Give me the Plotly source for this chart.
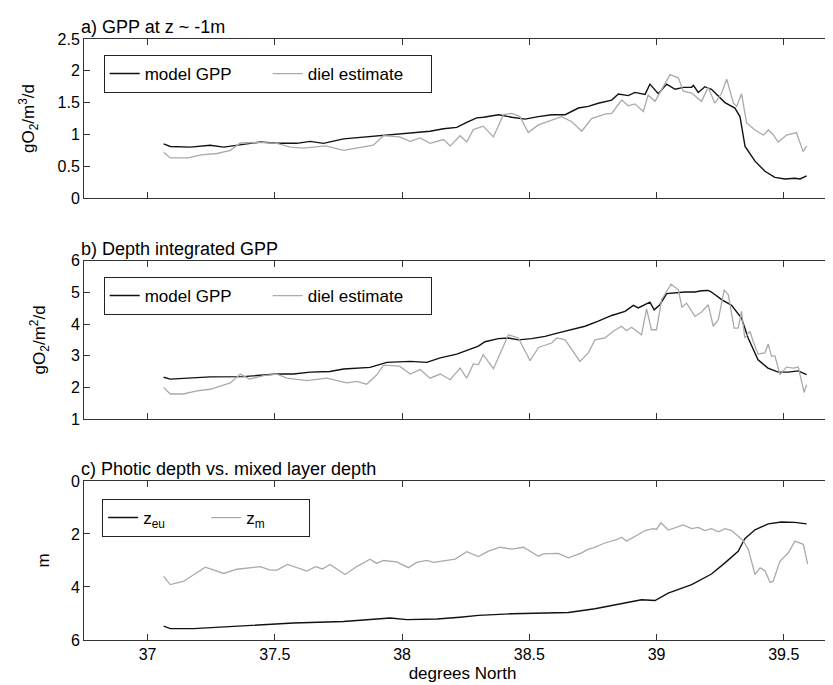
import plotly.graph_objects as go

# a) GPP at z ~ -1m
lat_a_model = [37.063, 37.089, 37.168, 37.246, 37.299, 37.364, 37.443, 37.508, 37.586, 37.639,
               37.691, 37.770, 37.848, 37.901, 37.953, 38.006, 38.058, 38.110, 38.163, 38.215,
               38.254, 38.293, 38.320, 38.379, 38.431, 38.483, 38.536, 38.588, 38.641, 38.693,
               38.732, 38.771, 38.824, 38.850, 38.889, 38.915, 38.955, 38.974, 39.007, 39.040,
               39.073, 39.105, 39.138, 39.145, 39.164, 39.190, 39.216, 39.243, 39.269, 39.308,
               39.328, 39.348, 39.387, 39.426, 39.465, 39.505, 39.544, 39.564, 39.590]
gpp_a_model = [0.85, 0.81, 0.80, 0.83, 0.80, 0.84, 0.88, 0.86, 0.86, 0.89,
               0.86, 0.93, 0.96, 0.98, 0.99, 1.01, 1.04, 1.05, 1.09, 1.11,
               1.19, 1.26, 1.27, 1.31, 1.27, 1.24, 1.28, 1.31, 1.31, 1.415,
               1.44, 1.49, 1.54, 1.635, 1.61, 1.66, 1.63, 1.79, 1.64, 1.79,
               1.71, 1.74, 1.74, 1.77, 1.66, 1.75, 1.71, 1.60, 1.50, 1.415,
               1.28, 0.81, 0.58, 0.42, 0.325, 0.30, 0.31, 0.30, 0.35]
lat_a_diel = [37.063, 37.089, 37.160, 37.210, 37.273, 37.325, 37.364, 37.443, 37.508, 37.560,
              37.612, 37.700, 37.770, 37.822, 37.887, 37.927, 37.990, 38.032, 38.071, 38.110,
              38.163, 38.189, 38.228, 38.254, 38.280, 38.319, 38.359, 38.398, 38.431, 38.463,
              38.496, 38.536, 38.588, 38.627, 38.667, 38.706, 38.745, 38.797, 38.824, 38.863,
              38.889, 38.915, 38.948, 38.967, 38.994, 39.033, 39.053, 39.086, 39.105, 39.138,
              39.177, 39.203, 39.229, 39.256, 39.276, 39.302, 39.315, 39.334, 39.354, 39.387,
              39.420, 39.440, 39.458, 39.478, 39.511, 39.550, 39.576, 39.590]
gpp_a_diel = [0.72, 0.63, 0.63, 0.68, 0.70, 0.75, 0.865, 0.875, 0.86, 0.80,
              0.785, 0.82, 0.75, 0.785, 0.83, 0.98, 0.96, 0.89, 0.945, 0.86,
              0.92, 0.82, 0.98, 0.88, 1.075, 1.13, 0.96, 1.31, 1.33, 1.28,
              1.03, 1.15, 1.23, 1.28, 1.20, 1.05, 1.25, 1.32, 1.33, 1.54,
              1.45, 1.48, 1.36, 1.62, 1.52, 1.81, 1.94, 1.89, 1.68, 1.65,
              1.52, 1.74, 1.49, 1.65, 1.87, 1.49, 1.44, 1.64, 1.18, 1.07,
              0.99, 1.07, 1.00, 0.88, 0.99, 1.03, 0.73, 0.82]

# b) Depth integrated GPP
lat_b_model = [37.063, 37.089, 37.246, 37.377, 37.508, 37.573, 37.639, 37.717, 37.770, 37.874,
               37.940, 38.032, 38.097, 38.150, 38.215, 38.267, 38.300, 38.326, 38.379, 38.418,
               38.457, 38.509, 38.562, 38.614, 38.667, 38.719, 38.771, 38.824, 38.876, 38.909,
               38.928, 38.955, 38.974, 38.991, 39.013, 39.040, 39.073, 39.112, 39.151, 39.177,
               39.203, 39.216, 39.256, 39.295, 39.334, 39.360, 39.399, 39.438, 39.478, 39.517,
               39.557, 39.590]
gpp_b_model = [2.32, 2.26, 2.33, 2.34, 2.42, 2.42, 2.48, 2.50, 2.58, 2.63,
               2.79, 2.82, 2.79, 2.93, 3.05, 3.19, 3.30, 3.44, 3.54, 3.56,
               3.50, 3.54, 3.61, 3.72, 3.82, 3.93, 4.09, 4.27, 4.40, 4.59,
               4.51, 4.63, 4.69, 4.45, 4.61, 4.96, 4.98, 5.01, 5.01, 5.05,
               5.06, 5.01, 4.77, 4.59, 4.19, 3.56, 2.87, 2.61, 2.48, 2.48,
               2.52, 2.40]
lat_b_diel = [37.063, 37.089, 37.140, 37.194, 37.246, 37.325, 37.364, 37.400, 37.456, 37.508,
              37.547, 37.626, 37.704, 37.783, 37.822, 37.861, 37.900, 37.927, 37.990, 38.032,
              38.071, 38.110, 38.150, 38.189, 38.228, 38.254, 38.280, 38.300, 38.319, 38.359,
              38.418, 38.457, 38.503, 38.536, 38.588, 38.608, 38.641, 38.699, 38.732, 38.758,
              38.797, 38.830, 38.863, 38.882, 38.902, 38.941, 38.961, 38.980, 39.000, 39.020,
              39.057, 39.086, 39.100, 39.118, 39.151, 39.177, 39.203, 39.223, 39.243, 39.266,
              39.282, 39.305, 39.321, 39.334, 39.347, 39.367, 39.380, 39.399, 39.426, 39.439,
              39.452, 39.465, 39.485, 39.511, 39.537, 39.557, 39.570, 39.580, 39.590]
gpp_b_diel = [2.00, 1.79, 1.79, 1.89, 1.94, 2.14, 2.42, 2.26, 2.37, 2.42,
              2.29, 2.21, 2.29, 2.14, 2.19, 2.10, 2.39, 2.70, 2.67, 2.42,
              2.56, 2.29, 2.42, 2.24, 2.61, 2.29, 2.74, 2.72, 3.03, 2.59,
              3.66, 3.56, 2.84, 3.26, 3.40, 3.56, 3.50, 2.82, 3.09, 3.50,
              3.56, 3.77, 3.93, 3.79, 3.90, 3.66, 4.48, 3.82, 3.82, 4.77,
              5.26, 5.08, 4.53, 4.66, 4.24, 4.38, 4.61, 3.93, 4.14, 5.08,
              4.93, 3.87, 3.87, 4.40, 3.56, 3.77, 3.45, 3.05, 3.09, 3.37,
              2.98, 3.00, 2.40, 2.64, 2.61, 2.64, 2.19, 1.84, 2.08]

# c) Photic depth vs. mixed layer depth
lat_zeu = [37.063, 37.089, 37.180, 37.377, 37.573, 37.770, 37.900, 37.953, 38.019, 38.137,
           38.228, 38.300, 38.431, 38.562, 38.654, 38.758, 38.863, 38.941, 38.994, 39.046,
           39.138, 39.216, 39.269, 39.321, 39.338, 39.347, 39.387, 39.439, 39.491, 39.544,
           39.590]
zeu = [5.48, 5.57, 5.57, 5.46, 5.36, 5.30, 5.21, 5.17, 5.23, 5.21,
       5.14, 5.07, 5.01, 4.98, 4.96, 4.82, 4.64, 4.48, 4.51, 4.23,
       3.91, 3.51, 3.09, 2.65, 2.34, 2.18, 1.84, 1.62, 1.55, 1.56,
       1.62]
lat_zm = [37.063, 37.089, 37.140, 37.227, 37.299, 37.351, 37.443, 37.482, 37.508, 37.550,
          37.626, 37.660, 37.687, 37.717, 37.776, 37.822, 37.874, 37.900, 37.927, 37.979,
          38.025, 38.058, 38.097, 38.124, 38.209, 38.254, 38.300, 38.339, 38.385, 38.431,
          38.477, 38.509, 38.536, 38.555, 38.614, 38.654, 38.706, 38.732, 38.752, 38.797,
          38.843, 38.863, 38.882, 38.928, 38.955, 38.987, 39.000, 39.017, 39.046, 39.105,
          39.138, 39.164, 39.190, 39.216, 39.243, 39.269, 39.295, 39.328, 39.341, 39.361,
          39.387, 39.407, 39.426, 39.446, 39.458, 39.485, 39.518, 39.544, 39.577, 39.594]
zm = [3.60, 3.91, 3.79, 3.25, 3.49, 3.33, 3.23, 3.36, 3.36, 3.15,
      3.40, 3.23, 3.32, 3.15, 3.53, 3.23, 2.95, 3.11, 3.00, 3.05,
      3.27, 3.07, 3.00, 3.07, 2.95, 2.67, 2.85, 2.65, 2.50, 2.57,
      2.50, 2.67, 2.84, 2.75, 2.73, 2.90, 2.71, 2.57, 2.52, 2.34,
      2.21, 2.12, 2.27, 2.02, 1.87, 1.80, 1.83, 1.58, 1.85, 1.66,
      1.80, 1.75, 1.87, 1.80, 1.92, 1.80, 1.87, 2.14, 2.26, 2.59,
      3.53, 3.28, 3.38, 3.82, 3.79, 3.03, 2.71, 2.27, 2.39, 3.14]

x_ticks = [37, 37.5, 38, 38.5, 39, 39.5]

FONT = "Liberation Sans, Arial, Helvetica, sans-serif"
BLACK = "#111111"
GREY = "#aaaaaa"

fig = go.Figure()

fig.add_trace(go.Scatter(x=lat_a_model, y=gpp_a_model, mode="lines", name="model GPP",
                         line=dict(color=BLACK, width=1.4), xaxis="x", yaxis="y", legend="legend"))
fig.add_trace(go.Scatter(x=lat_a_diel, y=gpp_a_diel, mode="lines", name="diel estimate",
                         line=dict(color=GREY, width=1.3), xaxis="x", yaxis="y", legend="legend"))
fig.add_trace(go.Scatter(x=lat_b_model, y=gpp_b_model, mode="lines", name="model GPP",
                         line=dict(color=BLACK, width=1.4), xaxis="x2", yaxis="y2", legend="legend2"))
fig.add_trace(go.Scatter(x=lat_b_diel, y=gpp_b_diel, mode="lines", name="diel estimate",
                         line=dict(color=GREY, width=1.3), xaxis="x2", yaxis="y2", legend="legend2"))
fig.add_trace(go.Scatter(x=lat_zeu, y=zeu, mode="lines", name="z<sub>eu</sub>",
                         line=dict(color=BLACK, width=1.4), xaxis="x3", yaxis="y3", legend="legend3"))
fig.add_trace(go.Scatter(x=lat_zm, y=zm, mode="lines", name="z<sub>m</sub>",
                         line=dict(color=GREY, width=1.3), xaxis="x3", yaxis="y3", legend="legend3"))

# panel domains (paper fractions of the plot area)
doms = [[0.7354, 1.0], [0.3677, 0.6311], [0.0, 0.2646]]

axis_common = dict(showline=True, linecolor="#333333", linewidth=1, ticks="inside", ticklen=6,
                   tickcolor="#333333", showgrid=False, zeroline=False, mirror="ticks",
                   tickfont=dict(family=FONT, size=16, color="black"))

layout = dict(
    width=833, height=685,
    margin=dict(l=76, r=0, t=31, b=53),
    paper_bgcolor="white", plot_bgcolor="white",
    font=dict(family=FONT, size=16, color="black"),
    showlegend=True,
)

for i, suffix in enumerate(["", "2", "3"]):
    layout["xaxis" + suffix] = dict(axis_common, domain=[0, 1], range=[36.75, 39.725],
                                    tickvals=x_ticks, anchor="y" + suffix,
                                    showticklabels=(i == 2))
layout["xaxis3"]["title"] = dict(text="degrees North", font=dict(family=FONT, size=17), standoff=4)

layout["yaxis"] = dict(axis_common, domain=doms[0], range=[0, 2.5], dtick=0.5, anchor="x",
                       title=dict(text="gO<sub>2</sub>/m<sup>3</sup>/d", font=dict(family=FONT, size=17), standoff=18))
layout["yaxis2"] = dict(axis_common, domain=doms[1], range=[1, 6], dtick=1, anchor="x2",
                        title=dict(text="gO<sub>2</sub>/m<sup>2</sup>/d", font=dict(family=FONT, size=17), standoff=20))
layout["yaxis3"] = dict(axis_common, domain=doms[2], range=[6, 0], tickvals=[0, 2, 4, 6], anchor="x3",
                        title=dict(text="m", font=dict(family=FONT, size=17), standoff=16))

legend_common = dict(orientation="h", xanchor="left", yanchor="top", bgcolor="white",
                     bordercolor="#222222", borderwidth=1, font=dict(family=FONT, size=17),
                     entrywidthmode="pixels", tracegroupgap=0)
layout["legend"] = dict(legend_common, x=0.026, y=0.9734, entrywidth=118)
layout["legend2"] = dict(legend_common, x=0.026, y=0.604, entrywidth=118)
layout["legend3"] = dict(legend_common, x=0.024, y=0.2346, entrywidth=58)

titles = ["a) GPP at z ~ -1m", "b) Depth integrated GPP", "c) Photic depth vs. mixed layer depth"]
layout["annotations"] = [
    dict(text=t, xref="paper", yref="paper", x=0, y=d[1], xanchor="left", yanchor="bottom",
         xshift=-5, yshift=0, showarrow=False, font=dict(family=FONT, size=18))
    for t, d in zip(titles, doms)
]

fig.update_layout(layout)

fig.write_html("out.html")
